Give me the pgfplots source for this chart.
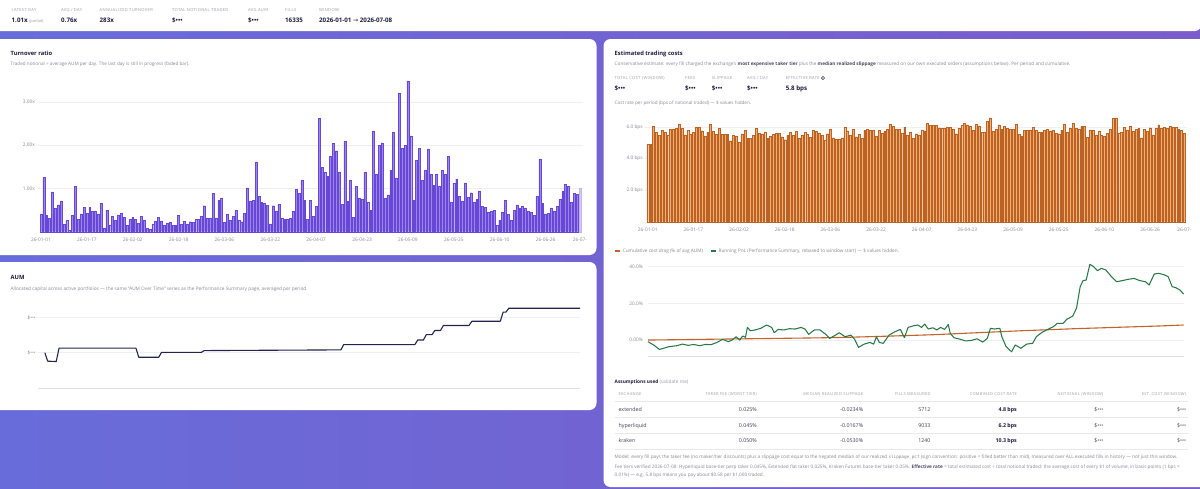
\documentclass[border=0pt]{standalone}
\usepackage{pgfplots}
\pgfplotsset{compat=1.18}
\usepackage{pgfplotstable}
\usepackage{fontspec}
\setmainfont{Open Sans}
\newfontfamily\capsfont[LetterSpace=8]{Open Sans}
\newfontfamily\symfont{DejaVu Sans}
\newfontfamily\codefont{DejaVu Sans Mono}

\definecolor{bgA}{RGB}{104,108,218}
\definecolor{bgB}{RGB}{122,92,202}
\definecolor{ink}{RGB}{30,28,60}
\definecolor{muted}{RGB}{135,135,150}
\definecolor{faint}{RGB}{155,155,168}
\definecolor{gridc}{RGB}{238,238,244}
\definecolor{gridD}{RGB}{222,222,230}
\definecolor{turnFill}{RGB}{158,132,240}
\definecolor{turnEdge}{RGB}{102,72,212}
\definecolor{costFill}{RGB}{246,172,108}
\definecolor{costEdge}{RGB}{185,100,38}
\definecolor{aumLine}{RGB}{38,36,78}
\definecolor{cumCost}{RGB}{192,100,40}
\definecolor{pnl}{RGB}{40,120,70}

\newcommand{\fs}[1]{\fontsize{#1}{#1}\selectfont}
\newcommand{\hid}{\$•••}
\newcommand{\infoicon}{\tikz[baseline=(i.base)]\node[circle, draw=ink, line width=0.35pt, inner sep=0.35pt, anchor=base, font=\bfseries\fs{3}, text=ink] (i) {i};}

% daily turnover ratio, 2026-01-01 .. 2026-07-08
\pgfplotstableread[row sep=\\]{r\\
0.41\\1.25\\0.37\\0.31\\0.92\\0.54\\0.62\\0.71\\0.17\\0.26\\
0.03\\0.38\\1.04\\0.28\\0.41\\0.56\\0.42\\0.57\\0.47\\0.48\\
0.41\\0.66\\0.09\\0.50\\0.16\\0.36\\0.26\\0.39\\0.42\\0.33\\
0.14\\0.28\\0.33\\0.29\\0.20\\0.36\\0.26\\0.08\\0.06\\0.18\\
0.25\\0.33\\0.24\\0.16\\0.20\\0.22\\0.15\\0.15\\0.38\\0.17\\
0.24\\0.18\\0.23\\0.22\\0.28\\0.28\\0.35\\0.60\\0.32\\0.32\\
0.88\\0.32\\0.73\\0.78\\0.22\\0.41\\0.26\\0.35\\0.49\\0.27\\
0.23\\0.42\\1.01\\0.71\\0.72\\1.61\\0.82\\0.68\\0.65\\0.61\\
0.18\\0.60\\0.48\\0.63\\0.31\\0.28\\0.28\\0.31\\0.47\\0.98\\
0.88\\1.19\\0.73\\0.29\\0.72\\0.36\\0.58\\2.62\\1.49\\1.37\\
1.28\\1.74\\2.04\\1.87\\1.38\\0.63\\2.09\\0.70\\1.18\\0.33\\
1.04\\0.78\\0.75\\1.37\\0.69\\0.50\\2.33\\1.33\\1.99\\2.05\\
0.77\\0.85\\1.42\\2.30\\1.24\\3.19\\1.92\\2.00\\3.48\\2.21\\
0.72\\1.65\\1.92\\1.18\\1.42\\1.91\\1.33\\1.07\\1.32\\1.06\\
1.42\\1.32\\1.74\\0.69\\1.12\\1.22\\0.82\\0.71\\1.13\\0.80\\
0.90\\0.68\\0.75\\0.94\\0.58\\0.56\\0.46\\0.48\\0.50\\0.14\\
0.27\\0.46\\0.72\\0.40\\0.26\\0.50\\0.62\\0.55\\0.59\\0.55\\
0.48\\0.45\\0.38\\0.82\\1.68\\0.65\\0.41\\0.42\\0.55\\0.48\\
0.58\\0.75\\0.94\\1.09\\1.05\\0.69\\0.88\\0.87\\1.01\\
}\turnoverdata

% cost rate per day, bps of notional traded
\pgfplotstableread[row sep=\\]{c\\
4.88\\4.88\\6.04\\5.64\\5.45\\5.79\\5.68\\5.49\\5.85\\5.87\\
5.92\\6.15\\5.89\\5.49\\5.77\\5.54\\5.68\\5.96\\6.00\\5.75\\
5.43\\5.66\\6.15\\5.73\\5.54\\5.89\\5.52\\5.54\\5.52\\5.12\\
5.47\\5.39\\5.01\\5.56\\5.79\\5.28\\5.28\\5.49\\5.89\\5.58\\
5.52\\5.68\\5.26\\5.43\\5.52\\5.60\\5.60\\5.37\\5.18\\5.49\\
5.64\\5.45\\5.73\\5.26\\5.45\\5.64\\5.54\\5.35\\5.77\\5.73\\
5.60\\5.45\\5.14\\5.56\\5.85\\5.31\\5.22\\5.22\\5.31\\6.00\\
5.75\\5.49\\5.83\\5.37\\5.54\\5.28\\5.77\\5.83\\5.79\\5.77\\
5.39\\5.77\\5.58\\5.73\\5.87\\6.15\\6.02\\5.83\\5.83\\5.60\\
5.98\\5.49\\5.66\\5.26\\5.56\\5.49\\5.81\\5.75\\6.21\\6.11\\
6.08\\6.08\\5.94\\5.92\\5.92\\5.98\\5.96\\5.85\\5.56\\5.92\\
6.08\\6.23\\6.13\\6.06\\5.79\\6.17\\6.06\\5.66\\5.68\\6.36\\
6.57\\5.71\\5.85\\6.13\\5.85\\6.04\\5.89\\5.87\\5.87\\6.15\\
5.52\\5.41\\5.79\\5.79\\5.81\\5.96\\5.77\\5.64\\5.66\\5.79\\
5.87\\5.75\\5.79\\5.58\\5.56\\5.77\\6.19\\5.66\\5.92\\6.21\\
5.89\\5.85\\6.02\\6.04\\5.33\\5.81\\5.81\\5.49\\5.71\\5.47\\
5.43\\5.58\\5.87\\6.55\\6.55\\5.62\\5.68\\5.96\\5.81\\6.02\\
5.73\\5.85\\5.89\\5.31\\5.83\\5.71\\5.94\\5.49\\5.89\\6.13\\
5.92\\5.98\\5.92\\6.04\\5.96\\5.98\\5.85\\5.81\\5.58\\
}\costdata

\pgfplotsset{
  dash/.style={
    scale only axis, clip=false,
    axis line style={draw=none},
    tick style={draw=none}, major tick length=0pt,
    ymajorgrids, major grid style={draw=gridc, line width=0.5pt},
    tick label style={font=\fs{4.8}, text=muted, inner sep=0pt},
    /pgf/number format/assume math mode=true,
  },
  datelabels/.style={
    xtick={0,16,...,176,188},
    xticklabels={26-01-01,26-01-17,26-02-02,26-02-18,26-03-06,26-03-22,26-04-07,26-04-23,26-05-09,26-05-25,26-06-10,26-06-26,26-07-},
  },
}

\begin{document}
\begin{tikzpicture}
\path[use as bounding box] (0pt,0pt) rectangle (1200pt,-488pt);
\clip (0pt,0pt) rectangle (1200pt,-488pt);

% page background and cards
\begin{scope}[x=1pt,y=-1pt]
\shade[left color=bgA, right color=bgB] (0,0) rectangle (1200,488);
\fill[white, rounded corners=6pt] (-10,-10) rectangle (1201,31);
\fill[white, rounded corners=7pt] (-10,39) rectangle (596.5,255);
\fill[white, rounded corners=7pt] (-10,262) rectangle (596.5,410);
\fill[white, rounded corners=7pt] (603.5,39) rectangle (1208,487);
\end{scope}

% turnover ratio
\begin{axis}[dash, datelabels, at={(38.1pt,-231.7pt)}, anchor=south west,
  width=544.7pt, height=151.6pt,
  xmin=-1, xmax=189, ymin=0, ymax=3.5,
  ytick={1,2,3}, yticklabels={1.00x,2.00x,3.00x},
  xticklabel shift=6pt, yticklabel shift=3pt,
  ybar, bar width=1.9pt]
\addplot[ybar, bar shift=0pt, fill=turnFill, draw=turnEdge, line width=0.4pt,
  restrict x to domain=0:187] table[x expr=\coordindex, y=r] {\turnoverdata};
\addplot[ybar, bar shift=0pt, fill=turnFill!45, draw=turnEdge!40, line width=0.4pt,
  restrict x to domain=188:188] table[x expr=\coordindex, y=r] {\turnoverdata};
\end{axis}

% AUM (values hidden)
\begin{axis}[dash, at={(38pt,-388pt)}, anchor=south west,
  width=542pt, height=86.5pt,
  xmin=-2.4, xmax=188, ymin=0, ymax=2.45,
  axis lines=left, axis line style={-},
  x axis line style={draw=gridD, line width=0.6pt}, y axis line style={draw=none},
  xtick=\empty, ytick={1,2}, yticklabels={\hid,\hid}, yticklabel shift=2pt]
\addplot[aumLine, line width=1.1pt, line join=round] coordinates {
(0,1.00) (1,0.76) (4,0.75) (5,1.13) (32,1.13) (33,0.87) (40,0.87) (41,1.01)
(55,1.01) (56,1.06) (104,1.08) (105,1.23) (130,1.23) (131,1.36) (133,1.36)
(134,1.51) (136,1.51) (137,1.63) (139,1.63) (140,1.77) (149,1.77) (150,1.89)
(160,1.89) (161,2.15) (162,2.15) (163,2.26) (188,2.26)};
\end{axis}

% cost rate per period
\begin{axis}[dash, datelabels, at={(644.9pt,-221.7pt)}, anchor=south west,
  width=542.3pt, height=107.6pt,
  xmin=-1, xmax=189, ymin=0, ymax=6.8,
  ytick={2,4,6}, yticklabels={2.0 bps,4.0 bps,6.0 bps},
  xticklabel shift=6.5pt, yticklabel shift=2pt,
  ybar, bar width=1.9pt]
\addplot[ybar, bar shift=0pt, fill=costFill, draw=costEdge, line width=0.3pt]
  table[x expr=\coordindex, y=c] {\costdata};
\end{axis}

% cumulative cost drag vs running PnL
\begin{axis}[dash, at={(648pt,-356pt)}, anchor=south west,
  width=535.6pt, height=93pt,
  xmin=0, xmax=188, ymin=-8.7, ymax=42,
  axis lines=left, axis line style={-},
  x axis line style={draw=gridD, line width=0.6pt}, y axis line style={draw=none},
  xtick=\empty, ytick={0,20,40}, yticklabels={0.00\%,20.0\%,40.0\%}, yticklabel shift=5pt,
  legend style={draw=none, fill=none, at={(-0.0635,1)}, anchor=south west, yshift=7pt,
    font=\fs{4.7}, text=muted, inner sep=0pt, legend columns=2,
    /tikz/every even column/.append style={column sep=5pt}},
  legend cell align=left,
  legend image code/.code={\draw[#1, line width=1.6pt] (0pt,0pt) -- (5pt,0pt);}]
\addplot[cumCost, line width=1.1pt] coordinates {
(0,0) (10,0.2) (20,0.4) (30,0.6) (40,0.8) (50,1.0) (60,1.2) (70,1.5) (77,1.8)
(90,2.4) (100,2.9) (110,3.6) (120,4.3) (130,5.0) (140,5.6) (150,6.2) (160,6.7)
(170,7.2) (180,7.7) (188,8.2)};
\addlegendentry{Cumulative cost drag (\% of avg AUM)}
\addplot[pnl, line width=1.05pt, line join=round] coordinates {
(0,-0.9) (2.0,-2.7) (4.0,-5.1) (5.4,-4.5) (7.4,-3.6) (10.1,-3.1) (12.1,-2.2)
(14.1,-2.9) (16.1,-2.4) (18.1,-3.1) (20.1,-2.4) (22.2,-2.5) (24.2,-1.3) (26.2,0.4)
(28.2,-0.9) (29.5,0) (30.9,1.8) (32.2,0) (33.2,2.2) (34.2,1.5) (34.9,6.9)
(35.9,5.1) (37.6,5.5) (39.6,6.4) (41.6,8.2) (43.4,6.9) (44.3,4.0) (45.7,5.8)
(47.7,5.5) (49.7,6.2) (51.7,6.0) (53.7,6.9) (55.1,6.0) (56.4,3.1) (58.4,5.5)
(60.4,5.5) (62.4,3.1) (63.8,0.9) (65.8,2.7) (67.1,4.0) (69.2,1.8) (71.2,2.7)
(72.5,0.5) (73.9,-4.0) (75.9,-2.2) (77.9,-1.3) (79.2,-2.2) (80.2,1.8) (81.2,-1.3)
(82.6,-1.8) (84.6,2.7) (86.6,4.5) (88.6,5.8) (90.0,1.3) (91.3,6.9) (93.3,7.8)
(94.7,8.2) (96.0,6.9) (97.1,8.7) (98.4,6.0) (100.0,6.7) (101.4,5.5) (102.7,6.9)
(104.1,5.8) (105.4,8.5) (106.1,3.6) (107.4,1.3) (109.4,0.5) (111.5,-0.5)
(113.5,-0.2) (115.5,0.7) (117.5,-1.1) (119.1,0.9) (120.2,6.4) (121.5,6.0)
(123.5,6.4) (124.2,1.8) (125.6,-3.3) (127.6,-6.4) (128.9,-2.7) (130.9,-4.5)
(132.9,-2.2) (135.0,-1.8) (136.3,1.8) (138.3,4.2) (140.3,5.8) (142.3,7.3)
(143.7,9.1) (145.7,9.1) (147.0,11.3) (149.1,13.1) (150.4,17.3) (151.7,29.1)
(152.7,32.4) (153.8,32.7) (155.1,41.3) (156.4,40.0) (157.8,37.8) (159.1,39.1)
(160.7,38.2) (162.5,34.9) (164.5,31.8) (166.5,32.4) (168.5,33.1) (170.6,33.6)
(172.6,32.4) (174.6,31.8) (175.9,30.0) (177.7,36.0) (179.3,36.4) (181.3,35.5)
(182.6,34.5) (184.0,29.1) (185.3,28.5) (186.7,27.3) (188,25.1)};
\addlegendentry{Running PnL (Performance Summary, rebased to window start) — \$ values hidden.}
\end{axis}

% texts
\begin{scope}[x=1pt,y=-1pt, every node/.style={inner sep=0pt, anchor=base west}]
% summary strip
\foreach \x/\t in {11.5/{LATEST DAY}, 61/{AVG / DAY}, 99.5/{ANNUALIZED TURNOVER},
  172/{TOTAL NOTIONAL TRADED}, 248/{AVG AUM}, 285/{FILLS}, 319/{WINDOW}}
  \node[font=\capsfont\fs{4.1}, text=faint] at (\x,11.5) {\t};
\node[font=\bfseries\fs{6.2}, text=ink] at (11.5,22.9) {1.01x {\mdseries\fs{3.9}\color{faint} (partial)}};
\node[font=\bfseries\fs{6.2}, text=ink] at (61,22.9) {0.76x};
\node[font=\bfseries\fs{6.2}, text=ink] at (99.5,22.9) {283x};
\node[font=\bfseries\fs{6.2}, text=ink] at (172,22.9) {\hid};
\node[font=\bfseries\fs{6.2}, text=ink] at (248,22.9) {\hid};
\node[font=\bfseries\fs{6.2}, text=ink] at (285,22.9) {16335};
\node[font=\bfseries\fs{6.2}, text=ink] at (319,22.9) {2026-01-01 {\symfont\mdseries→} 2026-07-08};

% turnover card
\node[font=\bfseries\fs{5.8}, text=ink] at (10.5,55.4) {Turnover ratio};
\node[font=\fs{4.65}, text=muted] at (10.5,65.6) {Traded notional ÷ average AUM per day. The last day is still in progress (faded bar).};

% AUM card
\node[font=\bfseries\fs{5.8}, text=ink] at (10.5,279.4) {AUM};
\node[font=\fs{4.75}, text=muted] at (10.5,290.3) {Allocated capital across active portfolios — the same “AUM Over Time” series as the Performance Summary page, averaged per period.};

% costs card
\node[font=\bfseries\fs{5.8}, text=ink] at (614.5,55.4) {Estimated trading costs};
\node[font=\fs{4.7}, text=muted] at (614.5,65.6) {Conservative estimate: every fill charged the exchange’s {\bfseries\color{ink!80}most expensive taker tier} plus the {\bfseries\color{ink!80}median realized slippage} measured on our own executed orders (assumptions below). Per period and cumulative.};
\foreach \x/\t in {614.5/{TOTAL COST (WINDOW)}, 685/{FEES}, 711.7/{SLIPPAGE}, 747/{AVG / DAY}}
  \node[font=\capsfont\fs{4.1}, text=faint] at (\x,79.2) {\t};
\node[font=\capsfont\fs{4.1}, text=faint] at (785.6,79.2) {EFFECTIVE RATE \infoicon};
\foreach \x in {614.5,685,711.7,747}
  \node[font=\bfseries\fs{6.2}, text=ink] at (\x,90.5) {\hid};
\node[font=\bfseries\fs{6.2}, text=ink] at (785.6,90.5) {5.8 bps};
\node[font=\fs{4.6}, text=muted] at (614.5,104.9) {Cost rate per period (bps of notional traded) — \$ values hidden.};

% assumptions table
\node[font=\fs{4.8}, text=ink] at (614.5,383.4) {\bfseries Assumptions used {\mdseries\color{faint}(validate me)}};
\node[font=\capsfont\fs{4.0}, text=faint] at (618.4,395.8) {EXCHANGE};
\foreach \x/\t in {757/{TAKER FEE (WORST TIER)}, 863.3/{MEDIAN REALIZED SLIPPAGE}, 930.7/{FILLS MEASURED},
  1017/{COMBINED COST RATE}, 1103.6/{NOTIONAL (WINDOW)}, 1186.3/{EST. COST (WINDOW)}}
  \node[font=\capsfont\fs{4.0}, text=faint, anchor=base east] at (\x,395.8) {\t};
\foreach \y in {401,417.7,433.3,449}
  \draw[gridc!80!gray!60, line width=0.5pt] (614.5,\y) -- (1188,\y);
\foreach \y/\ex/\fee/\slip/\n/\rate in {411.6/extended/0.025\%/-0.0234\%/5712/4.8 bps,
  427.6/hyperliquid/0.045\%/-0.0167\%/9033/6.2 bps, 442.9/kraken/0.050\%/-0.0530\%/1240/10.3 bps}{
  \node[font=\fs{5.3}, text=ink!85] at (618.4,\y) {\ex};
  \node[font=\fs{5.3}, text=ink!85, anchor=base east] at (757,\y) {\fee};
  \node[font=\fs{5.3}, text=ink!85, anchor=base east] at (863.3,\y) {\slip};
  \node[font=\fs{5.3}, text=ink!85, anchor=base east] at (930.7,\y) {\n};
  \node[font=\bfseries\fs{5.3}, text=ink, anchor=base east] at (1017,\y) {\rate};
  \node[font=\fs{5.3}, text=ink!85, anchor=base east] at (1103.6,\y) {\hid};
  \node[font=\fs{5.3}, text=ink!85, anchor=base east] at (1186.3,\y) {\hid};
}
\node[font=\fs{4.7}, text=muted] at (614.5,458.7) {Model: every fill pays the taker fee (no maker/tier discounts) plus a slippage cost equal to the negated median of our realized {\codefont\fs{4.3}slippage\_pct} (sign convention: positive = filled better than mid), measured over ALL executed fills in history — not just this window.};
\node[font=\fs{4.68}, text=muted] at (614.5,468.3) {Fee tiers verified 2026-07-08: Hyperliquid base-tier perp taker 0.045\%, Extended flat taker 0.025\%, Kraken Futures base-tier taker 0.05\%. {\bfseries\color{ink!80}Effective rate} = total estimated cost ÷ total notional traded: the average cost of every \$1 of volume, in basis points (1 bps =};
\node[font=\fs{4.68}, text=muted] at (614.5,476.7) {0.01\%) — e.g. 5.8 bps means you pay about \$0.58 per \$1,000 traded.};
\end{scope}
\end{tikzpicture}
\end{document}
